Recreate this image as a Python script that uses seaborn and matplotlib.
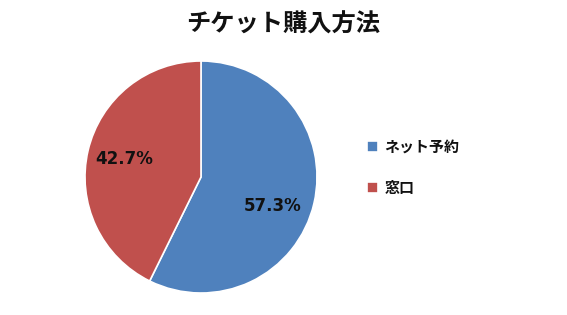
import matplotlib
matplotlib.use("Agg")
import matplotlib.pyplot as plt
import seaborn as sns

categories = ["ネット予約", "窓口"]
values = [57.3, 42.7]
colors = ["#4F81BD", "#C0504D"]
title = "チケット購入方法"

sns.set_style("white")
plt.rcParams['font.family'] = ['Noto Sans CJK JP', 'DejaVu Sans']

fig = plt.figure(figsize=(5.67, 3.15), dpi=100)
ax = fig.add_axes([85/567, 22/315, 232/567, 232/315])
wedges, texts, autotexts = ax.pie(
    values, colors=colors, startangle=90, counterclock=False,
    autopct=lambda p: f"{p:.1f}%", pctdistance=0.68,
    wedgeprops=dict(edgecolor="white", linewidth=1.2),
    textprops=dict(fontsize=12, fontweight="bold", color="#111111",
                   family=["DejaVu Sans"]))
# nudge the first label slightly lower, as in the reference
x0, y0 = autotexts[0].get_position()
autotexts[0].set_position((x0 - 0.045, y0 - 0.095))
ax.set_aspect("equal")
ax.set_xlim(-1, 1)
ax.set_ylim(-1, 1)

fig.text(0.5, 1 - 25/315, title, ha="center", va="center",
         fontsize=17.5, fontweight="bold", color="#111111")

leg = fig.legend(wedges, categories, loc="center left",
                 bbox_to_anchor=(353/567, 1 - 167/315), frameon=False,
                 handlelength=0.75, handleheight=0.75, handletextpad=0.45,
                 labelspacing=1.7, prop=dict(size=10.8, weight="bold"))
for t in leg.get_texts():
    t.set_color("#111111")

fig.savefig("out.png", dpi=100)
